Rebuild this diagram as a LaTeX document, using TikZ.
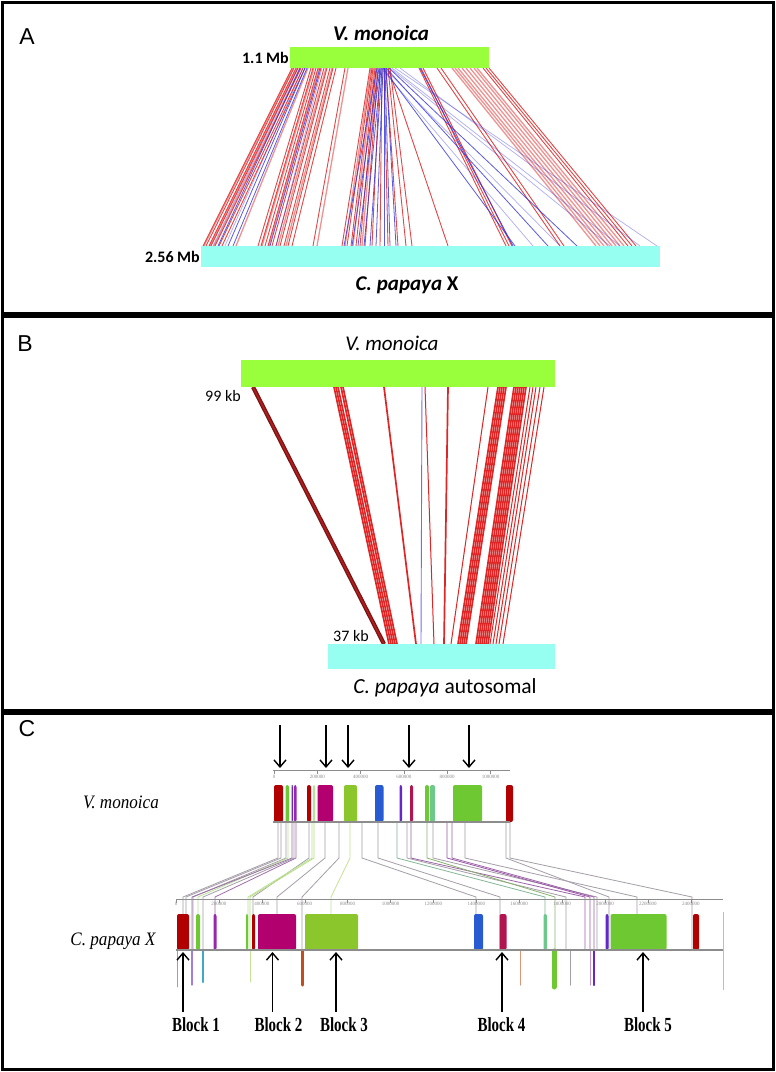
\documentclass[tikz,border=0pt]{standalone}
\usepackage{fontspec}
\setmainfont{Carlito}
\newfontfamily\tnr{Liberation Serif}
\newfontfamily\arl{Liberation Sans}
\usetikzlibrary{arrows.meta}
\definecolor{vgreen}{RGB}{153,255,60}
\definecolor{pcyan}{RGB}{150,255,242}
\definecolor{lred}{RGB}{222,38,38}
\definecolor{lblue}{RGB}{50,50,215}
\definecolor{dred}{RGB}{120,20,20}
\definecolor{cdred}{RGB}{178,0,0}
\definecolor{cgreen}{RGB}{110,200,50}
\definecolor{cpurple}{RGB}{150,40,170}
\definecolor{cmag}{RGB}{178,0,110}
\definecolor{cyg}{RGB}{140,198,45}
\definecolor{cblue}{RGB}{40,90,210}
\definecolor{ccrim}{RGB}{178,20,80}
\definecolor{cmint}{RGB}{110,200,140}
\definecolor{cviol}{RGB}{100,40,200}
\definecolor{ccyan}{RGB}{60,170,200}
\definecolor{corange}{RGB}{190,80,30}
\definecolor{cgray}{RGB}{165,158,168}
\definecolor{rgray}{RGB}{140,140,140}
\begin{document}
\begin{tikzpicture}[x=1pt,y=-1pt,
  frame/.style={line width=3pt},
  plbl/.style={font=\arl\fontsize{23}{23}\selectfont, inner sep=0},
  ttl/.style={font=\bfseries\itshape\fontsize{21}{21}\selectfont, inner sep=0},
  ttlb/.style={font=\itshape\fontsize{21}{21}\selectfont, inner sep=0},
  sz/.style={font=\bfseries\fontsize{16}{16}\selectfont, inner sep=1pt},
  szb/.style={font=\fontsize{16}{16}\selectfont, inner sep=1pt},
  bar/.style={inner sep=0, outer sep=0, draw=none},
  redS/.style={draw=lred, line width=0.9pt, opacity=0.85},
  redL/.style={draw=lred, line width=1.3pt, opacity=0.5},
  blueS/.style={draw=lblue, line width=0.8pt, opacity=0.8},
  blueL/.style={draw=lblue, line width=0.7pt, opacity=0.4},
  redB/.style={draw=lred, line width=1.7pt},
  cline/.style={draw=cgray, line width=0.8pt},
  cname/.style={font=\tnr\itshape\fontsize{19}{19}\selectfont, inner sep=0},
  blk/.style={font=\tnr\bfseries\fontsize{20}{20}\selectfont, inner sep=0},
  tick/.style={font=\tnr\fontsize{5}{5}\selectfont, text=rgray, inner sep=0},
  arrC/.style={line width=1.4pt, -{Straight Barb[length=7pt,width=12pt,line width=1.4pt]}}
]
\useasboundingbox (0,0) rectangle (776,1072);
\fill[white] (0,0) rectangle (776,1072);

% ================= Panel A =================
\foreach \a/\b in {292/203,294/206,296/209,298/211,301/215,303/219,305/222,
  311/258,313/261,316/265,318/268,321/272,324/276,327/280,330/284,333/288,336/292,
  345/313,370/342,372/347,373/351,375/356,376/360,378/365,380/372,382/380,384/388,
  386/398,388/406,390/412,388/448,419/506,421/509,423/512,437/560,441/564,
  483/628,486/632,489/636}
  \draw[redS] (\a,68) -- (\b,246);
\foreach \a/\b in {293/204,297/210,300/214,308/236,314/262,319/269,326/278,332/286,
  348/317,371/345,374/353,377/362,452/596,455/600,458/604,462/608,466/612,470/616,
  474/620,477/624}
  \draw[redL] (\a,68) -- (\b,246);
\foreach \a/\b in {300/218,305/228,307/233,320/270,377/344,379/352,380/358,381/364,
  382/370,383/376,384/384,385/390,386/396,420/513,383/515,386/548,389/577}
  \draw[blueS] (\a,68) -- (\b,246);
\foreach \a/\b in {298/213,303/225,322/276,381/533,384/560,390/610,395/657,392/620,400/640}
  \draw[blueL] (\a,68) -- (\b,246);

\node[bar, fill=vgreen, minimum width=199pt, minimum height=21pt, anchor=north west] (vmA) at (290,47) {};
\node[bar, fill=pcyan, minimum width=459pt, minimum height=21pt, anchor=north west] (cpA) at (201,246) {};
\node[plbl] (labA) at (27,37) {A};
\node[ttl] (tA1) at (381,33) {V. monoica};
\node[sz, anchor=east] (sA1) at (vmA.west) {1.1 Mb};
\node[sz, anchor=east] (sA2) at (cpA.west) {2.56 Mb};
\node[ttl] (tA2) at (407,285) {C. papaya \textup{X}};

% ================= Panel B =================
\draw[draw=dred, line width=4.2pt] (253,387) -- (384,644);
\draw[draw=lred!80!black, line width=1.6pt] (253,387) -- (384,644);
\foreach \a/\b in {334/389,336/391,338/393,341/395,343/397,384/416,448/444,
  498/458,500/460,502/462,504/464,506/466,
  514/476,516/478,518/480,520/482,522/484,524/486,526/488}
  \draw[redB] (\a,387) -- (\b,644);
\foreach \a/\b in {425/434,488/451,530/490,533/493,536/496,540/499,544/503}
  \draw[draw=lred, line width=1pt] (\a,387) -- (\b,644);
\draw[draw=lblue!70!white, line width=0.9pt] (422,387) -- (421,644);

\node[bar, fill=vgreen, minimum width=314pt, minimum height=27pt, anchor=north west] (vmB) at (241,360) {};
\node[bar, fill=pcyan, minimum width=227pt, minimum height=25pt, anchor=north west] (cpB) at (328,644) {};
\node[plbl] (labB) at (25,344) {B};
\node[ttlb] (tB1) at (392,343) {V. monoica};
\node[szb] (sB1) at (223,396) {99 kb};
\node[szb] (sB2) at (351,636) {37 kb};
\node[font=\fontsize{21.5}{21.5}\selectfont, inner sep=0] (tB2) at (445,688) {\textit{C. papaya} autosomal};

% ================= Panel C =================
\node[plbl] (labC) at (27,729) {C};

% connecting lines
\foreach \a/\b/\c in {278/183/cgray,281/186/cgray,286/193/cgray,288/198/cgreen!50!white,
  292/192/cpurple!40!cgray,294/203/cgray,296/215/cpurple!40!cgray,309/253/cgray,
  312/248/cgreen!50!white,314/250/cyg!60!white,325/277/cgray,339/302/cgray,
  350/331/cyg!50!white,362/476/cgray,378/500/cgray,397/545/cmint!60!cgray,
  407/566/cgray,411/585/cpurple!50!cgray,427/555/cgreen!50!cgray,433/597/cgray,
  447/590/cpurple!60!cgray,452/594/cpurple!50!cgray,465/637/cgray,506/609/cgray,510/692/cgray}
  \draw[cline, draw=\c] (\a,822) -- (\a,858) -- (\b,897) -- (\b,950);

% rulers
\draw[rgray, line width=0.9pt] (273,770) -- (510,770);
\draw[rgray, line width=0.9pt] (176,899) -- (723,899);
\foreach \i/\t in {0/0,1/200000,2/400000,3/600000,4/800000,5/1000000}{
  \draw[rgray, line width=0.4pt] (274+43.3*\i,770) -- (274+43.3*\i,774);
  \node[tick, anchor=north] at (274+43.3*\i,775) {\t};
}
\foreach \i/\t in {0/0,1/200000,2/400000,3/600000,4/800000,5/1000000,6/1200000,
  7/1400000,8/1600000,9/1800000,10/2000000,11/2200000,12/2400000}{
  \draw[rgray, line width=0.4pt] (176+42.9*\i,899) -- (176+42.9*\i,903);
  \node[tick, anchor=north] at (176+42.9*\i,902) {\t};
}

% V. monoica blocks
\foreach \a/\b/\c in {274/283/cdred,285.5/289/cgreen,291.5/293/cviol,294/296.5/cpurple,
  307/311/cdred,313/315/cgreen!50!white,317.5/333/cmag,344/357/cyg,375/383.5/cblue,
  399.5/402/cviol,410/413/ccrim,425/429/cgreen,430/435/cmint,453/482/cgreen,506/513/cdred}
  \fill[\c, rounded corners=2pt] (\a,785) rectangle (\b,822);
\draw[rgray, line width=1.2pt] (273,822) -- (510,822);

% C. papaya blocks
\foreach \a/\b/\c in {177/189/cdred,196/200/cgreen,213.5/216.5/cpurple,246/248/cgreen,
  252/255/cdred,258/296/cmag,305/358/cyg,474/483/cblue,499.5/506.5/ccrim,543.5/547/cmint,
  605.5/608.5/cviol,610.5/666.5/cgreen,693/699/cdred}
  \fill[\c, rounded corners=2pt] (\a,914) rectangle (\b,950);
\draw[draw=lred!40!white, line width=0.6pt] (723,912) -- (723,990);

% small bars below C. papaya line
\foreach \a/\w/\c/\e in {177/0.6/cgray/987,192/1.2/cviol!60!white/985,203/2/ccyan/982,
  250/0.8/cyg!50!white/982,302/3/corange/985,520/1/corange!60!white/985,
  554/5/cgreen/987,570/1/cgray/985,590/1/cpurple!50!white/985,594/2/cviol/985}
  \draw[\c, line width=\w pt, line cap=round] (\a,951) -- (\a,\e);
\draw[rgray, line width=1.2pt] (176,950) -- (723,950);

% arrows
\foreach \x [count=\k] in {280,326,348,409,469}
  \coordinate (da\k) at (\x,725);
\foreach \x [count=\k] in {280,326,348,409,469}
  \coordinate (db\k) at (\x,768);
\foreach \k in {1,...,5} \draw[arrC] (da\k) -- (db\k);

\node[cname] (tC1) at (121,802) {\scalebox{0.9}[1]{V. monoica}};
\node[cname] (tC2) at (113,941) {\scalebox{0.9}[1]{C. papaya X}};
\foreach \x/\lx [count=\k] in {183/196,272.5/278.5,336/344,502/501.5,643/648}{
  \node[blk] (b\k) at (\lx,1025) {\scalebox{0.75}[1]{Block \k}};
  \coordinate (ub\k) at (\x,1012);
  \coordinate (ut\k) at (\x,952);
  \draw[arrC] (ub\k) -- (ut\k);
}

% frames
\draw[frame] (2.5,2.5) rectangle (773,313.5);
\draw[frame] (2.5,316.5) rectangle (773,710.5);
\draw[frame] (2.5,713.5) rectangle (773,1069);
\end{tikzpicture}
\end{document}
